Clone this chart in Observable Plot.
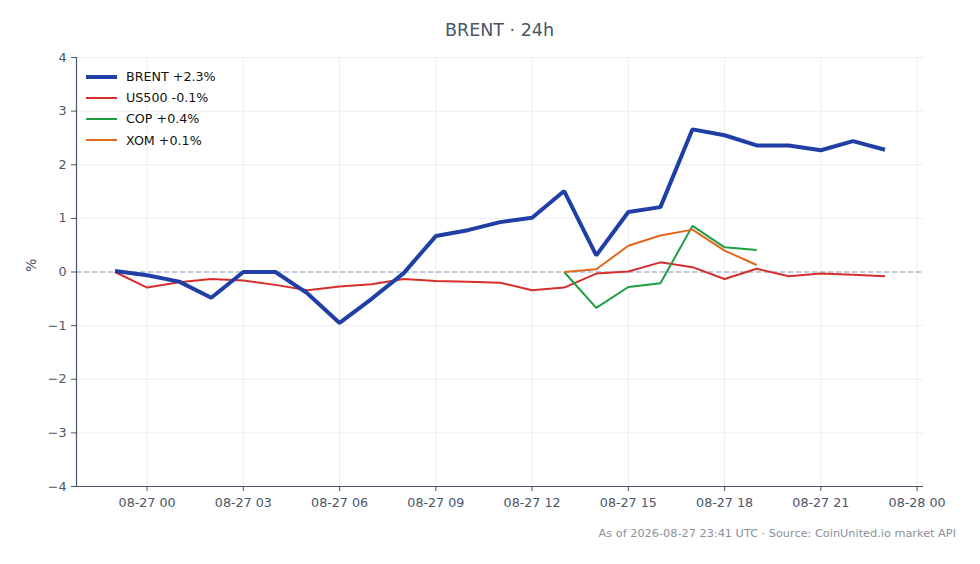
<!DOCTYPE html>
<html>
<head>
<meta charset="utf-8">
<script src="https://cdn.jsdelivr.net/npm/d3@7"></script>
<script src="https://cdn.jsdelivr.net/npm/@observablehq/plot@0.6"></script>
<style>
  html, body { margin: 0; padding: 0; background: #fff; }
  body { width: 980px; height: 564px; position: relative; font-family: "DejaVu Sans", sans-serif; overflow: hidden; }
  #title { height: 44px; line-height: 1; text-align: center; font-size: 17.5px; color: #4a5568; padding-top: 22px; padding-left: 19px; box-sizing: border-box; }
  #chart { height: 472px; }
  #caption { text-align: right; font-size: 11.3px; color: #8a9099; padding-right: 24px; padding-top: 11px; }
  #legend { position: absolute; left: 86px; top: 66px; font-size: 12.7px; color: #111; }
  .row { height: 21.2px; display: flex; align-items: center; }
  .sw { width: 31px; margin-right: 9px; }
</style>
</head>
<body>
<div id="title">BRENT · 24h</div>
<div id="chart"></div>
<div id="caption">As of 2026-08-27 23:41 UTC · Source: CoinUnited.io market API</div>
<div id="legend"></div>
<script>
// ---- data ----
const hours = [
  "2026-08-26T23:00Z","2026-08-27T00:00Z","2026-08-27T01:00Z","2026-08-27T02:00Z","2026-08-27T03:00Z",
  "2026-08-27T04:00Z","2026-08-27T05:00Z","2026-08-27T06:00Z","2026-08-27T07:00Z","2026-08-27T08:00Z",
  "2026-08-27T09:00Z","2026-08-27T10:00Z","2026-08-27T11:00Z","2026-08-27T12:00Z","2026-08-27T13:00Z",
  "2026-08-27T14:00Z","2026-08-27T15:00Z","2026-08-27T16:00Z","2026-08-27T17:00Z","2026-08-27T18:00Z",
  "2026-08-27T19:00Z","2026-08-27T20:00Z","2026-08-27T21:00Z","2026-08-27T22:00Z","2026-08-27T23:00Z"
];
const brent = [0.02,-0.06,-0.18,-0.48,0.0,0.0,-0.40,-0.95,-0.50,-0.02,0.67,0.78,0.93,1.01,1.51,0.31,1.12,1.21,2.66,2.55,2.36,2.36,2.27,2.44,2.28];
const us500 = [0.0,-0.29,-0.19,-0.13,-0.16,-0.24,-0.34,-0.27,-0.23,-0.13,-0.17,-0.18,-0.20,-0.34,-0.29,-0.03,0.01,0.18,0.09,-0.13,0.06,-0.08,-0.03,-0.05,-0.08];
const copHours = hours.slice(14, 21);
const cop = [0.0,-0.67,-0.28,-0.21,0.86,0.46,0.41];
const xom = [0.0,0.05,0.49,0.68,0.79,0.40,0.13];
const seriesNames = ["BRENT +2.3%","US500 -0.1%","COP +0.4%","XOM +0.1%"];
const seriesColors = ["#1f3fa6","#d62d2d","#1e9e43","#e2661c"];
const seriesWidths = [4, 2, 2, 2];
const xTickLabels = ["2026-08-27T00:00Z","2026-08-27T03:00Z","2026-08-27T06:00Z","2026-08-27T09:00Z","2026-08-27T12:00Z","2026-08-27T15:00Z","2026-08-27T18:00Z","2026-08-27T21:00Z","2026-08-28T00:00Z"];
const yTicks = [-4,-3,-2,-1,0,1,2,3,4];
const xDomain = ["2026-08-26T21:48Z","2026-08-28T00:12Z"];

// ---- build ----
const toRows = (ts, vs) => ts.map((t, i) => ({t: new Date(t), v: vs[i]}));
const rows = [toRows(hours, brent), toRows(hours, us500), toRows(copHours, cop), toRows(copHours, xom)];
const xTicks = xTickLabels.map(d => new Date(d));
const xd = xDomain.map(d => new Date(d));
const axisColor = "#4a5568";
const fmt = d3.utcFormat("%m-%d %H");
const yFmt = d => d < 0 ? "\u2212" + (-d) : String(d);

const lineMarks = [1, 2, 3, 0].map(i =>
  Plot.line(rows[i], {x: "t", y: "v", stroke: seriesColors[i], strokeWidth: seriesWidths[i], strokeLinejoin: "miter", strokeLinecap: "butt"})
);

const chart = Plot.plot({
  width: 980, height: 472,
  marginLeft: 76, marginRight: 57, marginTop: 13, marginBottom: 30,
  style: {fontFamily: "DejaVu Sans", fontSize: "12.7px", color: axisColor, background: "#fff"},
  x: {type: "utc", domain: xd},
  y: {domain: [-4, 4]},
  marks: [
    Plot.gridX(xTicks, {stroke: "#e6e9ee", strokeOpacity: 1, strokeWidth: 0.8}),
    Plot.gridY(yTicks, {stroke: "#e6e9ee", strokeOpacity: 1, strokeWidth: 0.8}),
    Plot.ruleY([0], {stroke: "#8b9bb6", strokeDasharray: "5,3", strokeWidth: 1.1}),
    ...lineMarks,
    Plot.ruleX([xd[0]], {stroke: axisColor, strokeWidth: 1.2}),
    Plot.ruleY([-4], {stroke: axisColor, strokeWidth: 1.2}),
    Plot.axisX(xTicks, {tickFormat: fmt, tickSize: 5, tickPadding: 6, stroke: axisColor, label: null}),
    Plot.axisY(yTicks, {tickFormat: yFmt, tickSize: 5, tickPadding: 5, stroke: axisColor, label: null}),
    Plot.text(["%"], {frameAnchor: "left", dx: -45, rotate: -90, fill: axisColor, fontSize: 14})
  ]
});
document.getElementById("chart").appendChild(chart);

const legend = document.getElementById("legend");
seriesNames.forEach((name, i) => {
  const row = document.createElement("div");
  row.className = "row";
  const sw = document.createElement("div");
  sw.className = "sw";
  sw.style.height = seriesWidths[i] + "px";
  sw.style.background = seriesColors[i];
  const tx = document.createElement("span");
  tx.textContent = name;
  row.appendChild(sw);
  row.appendChild(tx);
  legend.appendChild(row);
});
</script>
</body>
</html>
